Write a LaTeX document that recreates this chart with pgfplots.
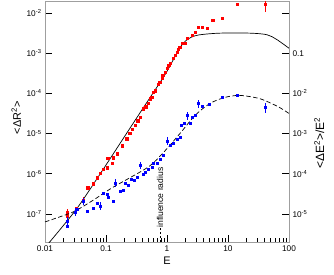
\documentclass[border=0pt]{standalone}
\usepackage{pgfplots}
\pgfplotsset{compat=1.18}
\usepackage{fontspec}
\setmainfont{Liberation Sans}
\begin{document}
\begin{tikzpicture}
\begin{axis}[name=main, scale only axis, width=244bp, height=241bp,
  xmode=log, ymode=log, xmin=0.01, xmax=100,
  ymin=1.995e-8, ymax=1.995e-2,
  tick align=inside, major tick length=7bp, minor tick length=4bp,
  every tick/.append style={black, line width=0.5pt},
  yminorticks=false,
  every tick label/.append style={font=\fontsize{8.3}{9}\selectfont},
  axis line style={gray!75, line width=0.9pt},
  xtick pos=left, ytick pos=left,
  xtick={0.01,0.1,1,10,100}, xticklabels={0.01,0.1,1,10,100},
  ytick={1e-7,1e-6,1e-5,1e-4,1e-3,1e-2},
  yticklabels={10\textsuperscript{-7},10\textsuperscript{-6},10\textsuperscript{-5},10\textsuperscript{-4},10\textsuperscript{-3},10\textsuperscript{-2}},
  xlabel={E}, xlabel style={font=\fontsize{11}{12}\selectfont, yshift=1bp},
  ylabel={<ΔR\textsuperscript{2}>}, ylabel style={font=\fontsize{11}{12}\selectfont, yshift=-1bp, at={(ticklabel cs:0.515)}},
]
% solid curve <dR^2>
\addplot[black, line width=0.7pt, smooth] coordinates {
(0.01,1.45e-8) (0.0309,1.17e-7) (0.0708,7.41e-7) (0.251,1.41e-5) (0.562,9.12e-5)
(0.767,1.86e-4) (1.0,3.55e-4) (1.26,6.76e-4) (1.63,1.38e-3) (2.0,2.0e-3)
(2.51,2.51e-3) (3.47,2.88e-3) (7.41,3.16e-3) (22.9,3.16e-3) (43.7,2.88e-3)
(63.1,2.19e-3) (100,1.33e-3)
};
% red data
\addplot[only marks, mark=square*, mark size=1.1pt, color=red, mark options={fill=red, draw=red},
  error bars/.cd, y dir=both, y explicit, error bar style={color=red, line width=0.5pt}, error mark=none]
coordinates {
(0.0229,1.07e-7) +- (0,2.5e-8)
(0.0229,8.9e-8)
(0.0324,1.41e-7)
(0.0417,2.24e-7) +- (0,4e-8)
(0.0501,4.47e-7)
(0.0617,5.62e-7)
(0.0708,7.94e-7)
(0.0794,1.05e-6)
(0.0891,1.32e-6)
(0.105,1.41e-6)
(0.107,2.4e-6)
(0.126,1.86e-6)
(0.132,2.51e-6)
(0.151,3.16e-6)
(0.182,5.01e-6)
(0.219,7.41e-6)
(0.245,1.0e-5)
(0.269,1.26e-5)
(0.302,1.58e-5)
(0.331,2.09e-5)
(0.363,2.51e-5)
(0.407,4.17e-5)
(0.447,4.68e-5)
(0.490,5.62e-5)
(0.525,7.41e-5)
(0.562,7.94e-5)
(0.603,1.05e-4)
(0.631,1.17e-4)
(0.708,1.66e-4)
(0.759,1.91e-4)
(0.832,2.34e-4)
(0.851,2.82e-4)
(0.933,3.31e-4)
(1.0,4.17e-4)
(1.07,5.01e-4)
(1.12,5.62e-4)
(1.26,7.41e-4)
(1.35,8.91e-4)
(1.45,1.05e-3)
(1.51,1.26e-3)
(1.62,1.41e-3)
(1.78,1.78e-3)
(2.0,1.78e-3)
(2.14,2.34e-3)
(2.57,2.82e-3)
(2.88,3.31e-3)
(3.24,4.47e-3)
(3.72,4.47e-3)
(4.57,4.27e-3)
(5.62,6.61e-3)
(7.94,7.41e-3)
(14.1,1.66e-2)
(40.7,1.66e-2) +- (0,6.1e-3)
};
% influence radius marker
\draw[black, line width=0.5pt, dash pattern=on 2.5pt off 1.5pt] (axis cs:0.77,1.995e-8) -- (axis cs:0.77,1.1e-6);
\node[rotate=90, fill=white, inner sep=0.8pt, font=\fontsize{8.6}{9}\selectfont] at (axis cs:0.77,2.55e-7) {influence radius};
\end{axis}
\begin{axis}[scale only axis, width=244bp, height=241bp,
  xmode=log, ymode=log, xmin=0.01, xmax=100,
  ymin=1.995e-6, ymax=1.995,
  tick align=inside, major tick length=7bp, minor tick length=4bp,
  every tick/.append style={black, line width=0.5pt},
  yminorticks=false,
  every tick label/.append style={font=\fontsize{8.3}{9}\selectfont},
  axis x line=none, axis y line*=right,
  axis line style={gray!75, line width=0.9pt},
  ytick={1e-5,1e-4,1e-3,1e-2,0.1,1},
  yticklabels={10\textsuperscript{-5},10\textsuperscript{-4},10\textsuperscript{-3},10\textsuperscript{-2},0.1,{}},
  ylabel={<ΔE\textsuperscript{2}>/E\textsuperscript{2}}, ylabel style={font=\fontsize{12}{13}\selectfont, at={(ticklabel cs:0.41)}},
]
% dashed curve <dE^2>/E^2
\addplot[black, line width=0.7pt, smooth, dash pattern=on 4.5pt off 2.5pt] coordinates {
(0.01,6.31e-6) (0.0178,8.51e-6) (0.0309,1.17e-5) (0.0631,2.24e-5) (0.126,4.47e-5)
(0.247,7.94e-5) (0.526,1.58e-4) (0.927,3.72e-4) (1.63,1.0e-3) (2.88,2.82e-3)
(5.07,5.62e-3) (8.91,7.94e-3) (14.6,8.91e-3) (22.9,8.32e-3) (36.1,7.08e-3)
(66.1,4.68e-3) (100,3.16e-3)
};
% blue data
\addplot[only marks, mark=square*, mark size=1.0pt, color=blue, mark options={fill=blue, draw=blue},
  error bars/.cd, y dir=both, y explicit, error bar style={color=blue, line width=0.5pt}, error mark=none]
coordinates {
(0.0229,6.6e-6) +- (0,1.8e-6)
(0.0229,5.0e-6)
(0.0309,1.12e-5) +- (0,2.5e-6)
(0.0331,1.32e-5)
(0.0417,2.09e-5) +- (0,4e-6)
(0.0501,1.17e-5)
(0.0617,1.41e-5)
(0.0708,1.86e-5)
(0.0794,1.58e-5) +- (0,3.5e-6)
(0.0891,3.31e-5)
(0.105,3.16e-5)
(0.110,2.63e-5)
(0.129,2.09e-5)
(0.141,5.89e-5) +- (0,1.3e-5)
(0.170,3.72e-5)
(0.191,3.98e-5)
(0.204,5.89e-5)
(0.229,5.25e-5)
(0.257,7.41e-5)
(0.290,6.8e-5)
(0.324,8.32e-5)
(0.363,1.66e-4) +- (0,3.5e-5)
(0.400,1.0e-4)
(0.437,1.12e-4)
(0.490,1.26e-4)
(0.562,1.48e-4)
(0.589,1.86e-4)
(0.692,1.78e-4)
(0.776,2.34e-4)
(0.851,2.82e-4)
(1.0,6.6e-4) +- (0,1.5e-4)
(1.12,5.01e-4)
(1.26,5.62e-4)
(1.45,7.41e-4)
(1.62,7.94e-4)
(1.74,1.58e-3)
(1.95,1.78e-3)
(2.14,2.82e-3) +- (0,6e-4)
(2.40,1.86e-3)
(2.57,2.51e-3)
(2.88,2.82e-3)
(3.24,5.62e-3) +- (0,1.2e-3)
(3.72,4.68e-3)
(5.01,5.25e-3)
(7.94,7.94e-3)
(14.1,8.91e-3)
(40.7,4.47e-3) +- (0,1.2e-3)
};
\end{axis}
\pgfresetboundingbox
\path[use as bounding box] ([xshift=-45bp,yshift=-33bp]main.south west) rectangle ([xshift=45bp,yshift=1bp]main.north east);
\end{tikzpicture}
\end{document}
